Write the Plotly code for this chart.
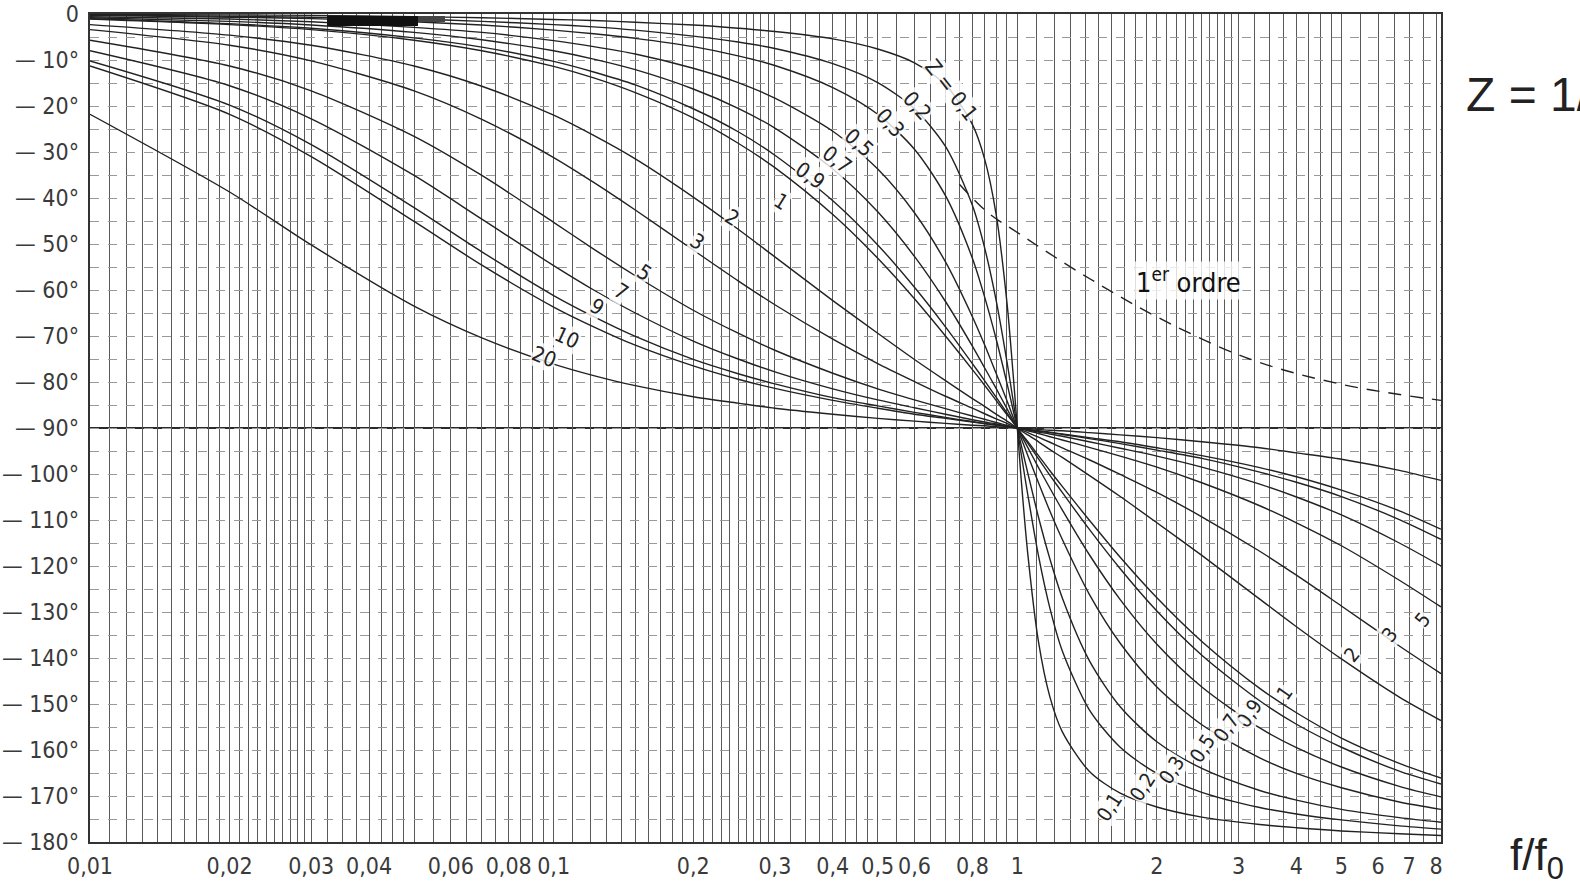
import math
import plotly.graph_objects as go

# ---------------- data ----------------
F_RATIO = [0.01, 0.02, 0.03, 0.05, 0.07, 0.1, 0.122, 0.15, 0.2, 0.25, 0.3, 0.4, 0.5, 0.6, 0.7,
           0.8, 0.85, 0.9, 0.95, 0.98, 1.0,
           1.02, 1.053, 1.111, 1.176, 1.25, 1.429, 1.667, 2.0, 2.5, 3.333, 4.0, 5.0, 6.667, 8.2]

PHASE_Z_0_1 = [-0.1, -0.2, -0.3, -0.6, -0.8, -1.2, -1.4, -1.8, -2.4, -3.1, -3.8, -5.4, -7.6, -10.6, -15.4,
               -24.0, -31.5, -43.5, -62.8, -78.6, -90,
               -101.4, -117.2, -136.5, -148.5, -156.0, -164.6, -169.4, -172.4, -174.6, -176.2, -176.9, -177.6, -178.2, -178.6]
PHASE_Z_0_2 = [-0.2, -0.5, -0.7, -1.1, -1.6, -2.3, -2.8, -3.5, -4.8, -6.1, -7.5, -10.8, -14.9, -20.6, -28.8,
               -41.6, -50.8, -62.2, -75.6, -84.2, -90,
               -95.8, -104.4, -117.8, -129.2, -138.4, -151.2, -159.4, -165.1, -169.2, -172.5, -173.9, -175.2, -176.5, -177.2]
PHASE_Z_0_3 = [-0.3, -0.7, -1.0, -1.7, -2.4, -3.5, -4.3, -5.3, -7.1, -9.1, -11.2, -16.0, -21.8, -29.4, -39.5,
               -53.1, -61.5, -70.6, -80.3, -86.2, -90,
               -93.8, -99.7, -109.4, -118.5, -126.9, -140.5, -150.6, -158.2, -164.0, -168.8, -170.9, -172.9, -174.7, -175.7]
PHASE_Z_0_5 = [-0.6, -1.1, -1.7, -2.9, -4.0, -5.8, -7.1, -8.7, -11.8, -14.9, -18.3, -25.5, -33.7, -43.2, -53.9,
               -65.8, -71.9, -78.1, -84.1, -87.7, -90,
               -92.3, -95.9, -101.9, -108.1, -114.2, -126.1, -136.8, -146.3, -154.5, -161.7, -165.1, -168.2, -171.3, -172.9]
PHASE_Z_0_7 = [-0.8, -1.6, -2.4, -4.0, -5.6, -8.0, -9.8, -12.1, -16.3, -20.5, -24.8, -33.7, -43.0, -52.7, -62.5,
               -72.2, -76.9, -81.4, -85.8, -88.4, -90,
               -91.6, -94.2, -98.6, -103.1, -107.8, -117.5, -127.3, -137.0, -146.3, -155.2, -159.5, -163.7, -167.9, -170.2]
PHASE_Z_0_9 = [-1.0, -2.1, -3.1, -5.2, -7.2, -10.3, -12.6, -15.4, -20.6, -25.6, -30.7, -40.6, -50.2, -59.4, -68.0,
               -76.0, -79.7, -83.3, -86.7, -88.7, -90,
               -91.3, -93.3, -96.7, -100.3, -104.0, -112.0, -120.6, -129.8, -139.4, -149.3, -154.4, -159.4, -164.6, -167.4]
PHASE_Z_1 = [-1.1, -2.3, -3.4, -5.7, -8.0, -11.4, -13.9, -17.1, -22.6, -28.1, -33.4, -43.6, -53.1, -61.9, -70.0,
             -77.3, -80.7, -84.0, -87.1, -88.8, -90,
             -91.2, -92.9, -96.0, -99.3, -102.7, -110.0, -118.1, -126.9, -136.4, -146.6, -151.9, -157.4, -162.9, -166.1]
PHASE_Z_2 = [-2.3, -4.6, -6.8, -11.3, -15.7, -22.0, -26.4, -31.5, -39.8, -46.8, -52.8, -62.3, -69.4, -75.1, -79.7,
             -83.6, -85.3, -87.0, -88.5, -89.4, -90,
             -90.6, -91.5, -93.0, -94.7, -96.4, -100.3, -104.9, -110.6, -117.7, -127.2, -133.2, -140.2, -148.5, -153.6]
PHASE_Z_3 = [-3.4, -6.8, -10.2, -16.7, -22.9, -31.2, -36.6, -42.6, -51.3, -58.0, -63.2, -70.7, -76.0, -79.9, -83.1,
             -85.7, -86.9, -88.0, -89.0, -89.6, -90,
             -90.4, -91.0, -92.0, -93.1, -94.3, -96.9, -100.1, -104.0, -109.3, -116.8, -122.0, -128.7, -137.4, -143.4]
PHASE_Z_5 = [-5.7, -11.3, -16.7, -26.6, -35.1, -45.3, -51.1, -56.9, -64.4, -69.4, -73.1, -78.1, -81.5, -83.9, -85.8,
             -87.4, -88.1, -88.8, -89.4, -89.8, -90,
             -90.2, -90.6, -91.2, -91.9, -92.6, -94.2, -96.1, -98.5, -101.9, -106.9, -110.6, -115.6, -123.1, -128.9]
PHASE_Z_7 = [-8.0, -15.6, -22.8, -35.1, -44.6, -54.7, -60.0, -65.0, -71.1, -75.0, -77.8, -81.5, -83.9, -85.6, -87.0,
             -88.2, -88.7, -89.1, -89.6, -89.8, -90,
             -90.2, -90.4, -90.9, -91.3, -91.8, -93.0, -94.4, -96.1, -98.5, -102.2, -105.0, -108.9, -115.0, -120.0]
PHASE_Z_9 = [-10.2, -19.8, -28.4, -42.1, -51.7, -61.2, -65.8, -70.1, -75.1, -78.2, -80.4, -83.4, -85.2, -86.6, -87.7,
             -88.6, -89.0, -89.3, -89.7, -89.9, -90,
             -90.1, -90.3, -90.7, -91.0, -91.4, -92.3, -93.4, -94.8, -96.6, -99.6, -101.8, -104.9, -109.9, -114.2]
PHASE_Z_10 = [-11.3, -21.8, -31.0, -45.1, -54.6, -63.7, -68.0, -72.0, -76.5, -79.4, -81.4, -84.0, -85.7, -87.0, -87.9,
              -88.7, -89.1, -89.4, -89.7, -89.9, -90,
              -90.1, -90.3, -90.6, -90.9, -91.3, -92.1, -93.0, -94.3, -96.0, -98.6, -100.6, -103.5, -108.0, -112.0]
PHASE_Z_20 = [-21.8, -38.7, -50.2, -63.5, -70.4, -76.1, -78.6, -80.8, -83.2, -84.6, -85.7, -87.0, -87.9, -88.5, -89.0,
              -89.4, -89.5, -89.7, -89.9, -89.9, -90,
              -90.1, -90.1, -90.3, -90.5, -90.6, -91.0, -91.5, -92.1, -93.0, -94.3, -95.4, -96.8, -99.2, -101.4]

# first-order curve (dashed)
F_RATIO_1ST = [0.75, 0.86, 1.0, 1.43, 2.06, 3.17, 5.0, 8.2]
PHASE_1ST = [-37.0, -43.0, -47.5, -57.5, -66.5, -75.0, -80.5, -84.0]

X_TICK_VALUES = [0.01, 0.02, 0.03, 0.04, 0.06, 0.08, 0.1, 0.2, 0.3, 0.4, 0.5, 0.6, 0.8, 1, 2, 3, 4, 5, 6, 7, 8]
X_TICK_LABELS = ["0,01", "0,02", "0,03", "0,04", "0,06", "0,08", "0,1", "0,2", "0,3", "0,4", "0,5", "0,6",
                 "0,8", "1", "2", "3", "4", "5", "6", "7", "8"]
Y_TICK_VALUES = [0, -10, -20, -30, -40, -50, -60, -70, -80, -90, -100, -110, -120, -130, -140, -150, -160, -170, -180]
Y_TICK_LABELS = ["0", "— 10°", "— 20°", "— 30°", "— 40°", "— 50°", "— 60°", "— 70°", "— 80°", "— 90°",
                 "— 100°", "— 110°", "— 120°", "— 130°", "— 140°", "— 150°", "— 160°", "— 170°", "— 180°"]

CURVES = [PHASE_Z_0_1, PHASE_Z_0_2, PHASE_Z_0_3, PHASE_Z_0_5, PHASE_Z_0_7, PHASE_Z_0_9, PHASE_Z_1,
          PHASE_Z_2, PHASE_Z_3, PHASE_Z_5, PHASE_Z_7, PHASE_Z_9, PHASE_Z_10, PHASE_Z_20]

# ---------------- styling / layout ----------------
FONT = "DejaVu Sans Condensed, Liberation Sans Narrow, Liberation Sans, Arial, sans-serif"
INK = "#222222"
L, R, T, B = 90, 139, 14, 51
PW, PH = 1580 - L - R, 893 - T - B

# log-paper grid positions: per decade 1-3 step .1, 3-5 step .25, 5-10 step .5
grid_x = []
for dec in (0.01, 0.1, 1.0):
    v = 1.0
    while v < 10 - 1e-9:
        grid_x.append(round(v * dec, 6))
        v = v + (0.1 if v < 3 - 1e-9 else (0.25 if v < 5 - 1e-9 else 0.5))
grid_x = [g for g in grid_x if g <= 8.2]
grid_y = list(range(0, -181, -5))

fig = go.Figure()
for ys in CURVES:
    fig.add_trace(go.Scatter(x=F_RATIO, y=ys, mode="lines",
                             line=dict(color=INK, width=1.4, shape="spline", smoothing=0.8),
                             hoverinfo="skip"))
fig.add_trace(go.Scatter(x=F_RATIO_1ST, y=PHASE_1ST, mode="lines",
                         line=dict(color="#222222", width=1.4, dash="13px,9px", shape="spline"),
                         hoverinfo="skip"))

XMAX = 8.2
TICKFONT = dict(family=FONT, size=23, color="#3a3a3a")
fig.update_layout(
    width=1580, height=893,
    margin=dict(l=L, r=R, t=T, b=B),
    paper_bgcolor="white", plot_bgcolor="white",
    showlegend=False,
    # grid-only axes
    xaxis=dict(type="log", range=[-2, math.log10(XMAX)],
               tickmode="array", tickvals=grid_x, showticklabels=False,
               showgrid=True, gridcolor="#5a5a5a", gridwidth=1.2,
               zeroline=False, ticks="", automargin=False,
               showline=True, linecolor="#333333", linewidth=2, mirror=True),
    yaxis=dict(range=[-180, 0], tickmode="array", tickvals=grid_y, showticklabels=False,
               showgrid=True, gridcolor="#999999", gridwidth=1, griddash="dash",
               zeroline=False, ticks="", automargin=False,
               showline=True, linecolor="#333333", linewidth=2, mirror=True),
    # labelled axes overlaying the grid axes
    xaxis2=dict(type="log", range=[-2, math.log10(XMAX)], overlaying="x", anchor="y2",
                tickmode="array", tickvals=X_TICK_VALUES, ticktext=X_TICK_LABELS, tickangle=0,
                showgrid=False, zeroline=False, ticks="", automargin=False, showline=False,
                tickfont=TICKFONT, ticklabelstandoff=8),
    yaxis2=dict(range=[-180, 0], overlaying="y", anchor="x2",
                tickmode="array", tickvals=Y_TICK_VALUES, ticktext=Y_TICK_LABELS,
                showgrid=False, zeroline=False, ticks="", automargin=False, showline=False,
                tickfont=TICKFONT, ticklabelstandoff=10),
)
# invisible trace to activate the labelled axes
fig.add_trace(go.Scatter(x=[0.01, XMAX], y=[-180, 0], xaxis="x2", yaxis="y2", mode="markers",
                         marker=dict(opacity=0, size=1), hoverinfo="skip"))

# heavier reference lines (f/f0 = 1, -90 deg)
fig.add_shape(type="line", xref="x", yref="y", x0=0, x1=0, y0=-180, y1=0,
              line=dict(color="#2a2a2a", width=2.2), layer="below")
fig.add_shape(type="line", xref="paper", yref="y", x0=0, x1=1, y0=-90, y1=-90,
              line=dict(color="#2a2a2a", width=2.2), layer="below")
# dark scan smear along the top edge
fig.add_shape(type="rect", xref="paper", yref="paper",
              x0=(327 - L) / PW, x1=(418 - L) / PW, y0=1 - 12 / PH, y1=1 - 2 / PH,
              fillcolor="#111111", line=dict(width=0), layer="above")
fig.add_shape(type="rect", xref="paper", yref="paper",
              x0=(418 - L) / PW, x1=(445 - L) / PW, y0=1 - 8 / PH, y1=1 - 2 / PH,
              fillcolor="#444444", line=dict(width=0), layer="above")

# curve labels: (text, f/f0, phase, angle)
LEFT_LABELS = [("Z = 0,1", 0.72, -16.5, 52), ("0,2", 0.608, -20.0, 48), ("0,3", 0.532, -23.7, 48),
               ("0,5", 0.456, -28.0, 42), ("0,7", 0.409, -31.7, 38), ("0,9", 0.358, -35.2, 35),
               ("1", 0.310, -40.9, 32), ("2", 0.243, -44.3, 32), ("3", 0.204, -49.6, 34),
               ("5", 0.157, -56.3, 34), ("7", 0.140, -60.4, 32), ("9", 0.124, -63.7, 30),
               ("10", 0.107, -70.4, 25), ("20", 0.0954, -74.6, 22)]
RIGHT_LABELS = [("5", 7.47, -131.7, -50), ("3", 6.34, -135.0, -50), ("2", 5.25, -139.3, -50),
                ("1", 3.77, -147.6, -55), ("0,9", 3.17, -152.0, -57), ("0,7", 2.82, -155.2, -57),
                ("0,5", 2.51, -159.6, -57), ("0,3", 2.15, -164.3, -57), ("0,2", 1.86, -168.0, -57),
                ("0,1", 1.58, -172.4, -57)]
for txt, fx, ph, ang in LEFT_LABELS:
    fig.add_annotation(x=math.log10(fx), y=ph, xref="x", yref="y", text=txt, showarrow=False,
                       textangle=ang, font=dict(family=FONT, size=21, color=INK),
                       bgcolor="rgba(255,255,255,0.8)", borderpad=0)
for txt, fx, ph, ang in RIGHT_LABELS:
    fig.add_annotation(x=math.log10(fx), y=ph, xref="x", yref="y", text=txt, showarrow=False,
                       textangle=ang, font=dict(family=FONT, size=20, color=INK),
                       bgcolor="rgba(255,255,255,0.8)", borderpad=0)

fig.add_annotation(x=math.log10(2.34), y=-58, xref="x", yref="y", text="1<sup>er</sup> ordre",
                   showarrow=False, font=dict(family=FONT, size=27, color="#111111"),
                   bgcolor="rgba(255,255,255,0.8)")

# outside texts
fig.add_annotation(x=(1464 - L) / PW, y=1 - (95 - T) / PH, xref="paper", yref="paper",
                   text="Z = 1/", showarrow=False, xanchor="left", yanchor="middle",
                   font=dict(family="Liberation Sans, Arial, sans-serif", size=48, color="#222222"))
fig.add_annotation(x=(1508 - L) / PW, y=-(858 - 842) / PH, xref="paper", yref="paper",
                   text="f/f<sub>0</sub>", showarrow=False, xanchor="left", yanchor="middle",
                   font=dict(family="Liberation Sans, Arial, sans-serif", size=44, color="#222222"))

fig.write_html("out.html", config={"displayModeBar": False},
               post_script="document.body.style.margin='0';")
